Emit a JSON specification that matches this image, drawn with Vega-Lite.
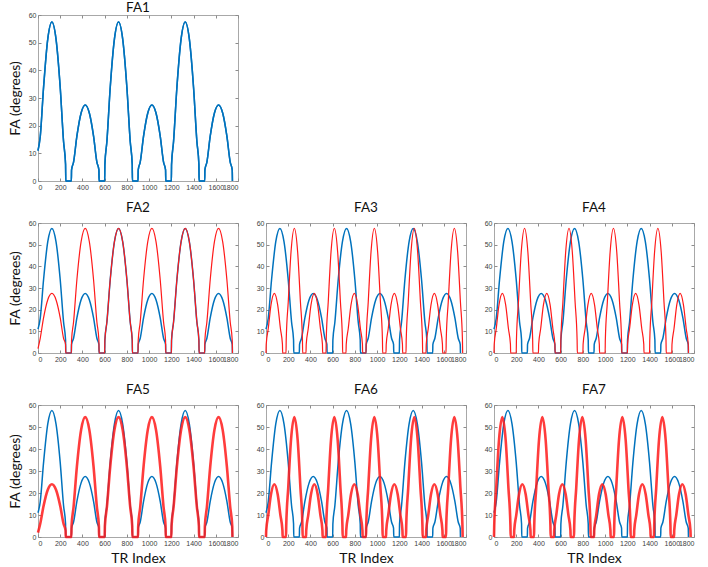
{
"$schema":"https://vega.github.io/schema/vega-lite/v6.json",
"background":"white",
"padding":{"left":7,"top":0,"right":0,"bottom":0},
"datasets":{
"b":[{"x":0,"y":11},{"x":20,"y":16},{"x":50,"y":33.8},{"x":88,"y":51.4},{"x":125,"y":57.5},{"x":162,"y":51.4},{"x":200,"y":33.8},{"x":230,"y":14.3},{"x":248,"y":6},{"x":250,"y":0},
{"x":300,"y":0},{"x":302,"y":4},{"x":320,"y":6.8},{"x":350,"y":16.2},{"x":388,"y":24.6},{"x":425,"y":27.5},{"x":462,"y":24.6},{"x":500,"y":16.2},{"x":530,"y":6.8},{"x":548,"y":4},{"x":550,"y":0},
{"x":600,"y":0},{"x":602,"y":6},{"x":620,"y":14.3},{"x":650,"y":33.8},{"x":688,"y":51.4},{"x":725,"y":57.5},{"x":762,"y":51.4},{"x":800,"y":33.8},{"x":830,"y":14.3},{"x":848,"y":6},{"x":850,"y":0},
{"x":900,"y":0},{"x":902,"y":4},{"x":920,"y":6.8},{"x":950,"y":16.2},{"x":988,"y":24.6},{"x":1025,"y":27.5},{"x":1062,"y":24.6},{"x":1100,"y":16.2},{"x":1130,"y":6.8},{"x":1148,"y":4},{"x":1150,"y":0},
{"x":1200,"y":0},{"x":1202,"y":6},{"x":1220,"y":14.3},{"x":1250,"y":33.8},{"x":1288,"y":51.4},{"x":1325,"y":57.5},{"x":1362,"y":51.4},{"x":1400,"y":33.8},{"x":1430,"y":14.3},{"x":1448,"y":6},{"x":1450,"y":0},
{"x":1500,"y":0},{"x":1502,"y":4},{"x":1520,"y":6.8},{"x":1550,"y":16.2},{"x":1588,"y":24.6},{"x":1625,"y":27.5},{"x":1662,"y":24.6},{"x":1700,"y":16.2},{"x":1730,"y":6.8},{"x":1748,"y":4},{"x":1750,"y":0}],
"r2":[{"x":0,"y":2},{"x":20,"y":6.8},{"x":50,"y":16.2},{"x":88,"y":24.6},{"x":125,"y":27.5},{"x":162,"y":24.6},{"x":200,"y":16.2},{"x":230,"y":6.8},{"x":248,"y":4},{"x":250,"y":0},
{"x":300,"y":0},{"x":302,"y":6},{"x":320,"y":14.3},{"x":350,"y":33.8},{"x":388,"y":51.4},{"x":425,"y":57.5},{"x":462,"y":51.4},{"x":500,"y":33.8},{"x":530,"y":14.3},{"x":548,"y":6},{"x":550,"y":0},
{"x":600,"y":0},{"x":602,"y":6},{"x":620,"y":14.3},{"x":650,"y":33.8},{"x":688,"y":51.4},{"x":725,"y":57.5},{"x":762,"y":51.4},{"x":800,"y":33.8},{"x":830,"y":14.3},{"x":848,"y":6},{"x":850,"y":0},
{"x":900,"y":0},{"x":902,"y":6},{"x":920,"y":14.3},{"x":950,"y":33.8},{"x":988,"y":51.4},{"x":1025,"y":57.5},{"x":1062,"y":51.4},{"x":1100,"y":33.8},{"x":1130,"y":14.3},{"x":1148,"y":6},{"x":1150,"y":0},
{"x":1200,"y":0},{"x":1202,"y":6},{"x":1220,"y":14.3},{"x":1250,"y":33.8},{"x":1288,"y":51.4},{"x":1325,"y":57.5},{"x":1362,"y":51.4},{"x":1400,"y":33.8},{"x":1430,"y":14.3},{"x":1448,"y":6},{"x":1450,"y":0},
{"x":1500,"y":0},{"x":1502,"y":6},{"x":1520,"y":14.3},{"x":1550,"y":33.8},{"x":1588,"y":51.4},{"x":1625,"y":57.5},{"x":1662,"y":51.4},{"x":1700,"y":33.8},{"x":1730,"y":14.3},{"x":1748,"y":6},{"x":1750,"y":0}],
"r5":[{"x":0,"y":2},{"x":20,"y":6},{"x":50,"y":14.1},{"x":88,"y":21.5},{"x":125,"y":24},{"x":162,"y":21.5},{"x":200,"y":14.1},{"x":230,"y":6},{"x":248,"y":3},{"x":250,"y":0},
{"x":300,"y":0},{"x":302,"y":5},{"x":320,"y":13.6},{"x":350,"y":32},{"x":388,"y":48.7},{"x":425,"y":54.5},{"x":462,"y":48.7},{"x":500,"y":32},{"x":530,"y":13.6},{"x":548,"y":5},{"x":550,"y":0},
{"x":600,"y":0},{"x":602,"y":5},{"x":620,"y":13.6},{"x":650,"y":32},{"x":688,"y":48.7},{"x":725,"y":54.5},{"x":762,"y":48.7},{"x":800,"y":32},{"x":830,"y":13.6},{"x":848,"y":5},{"x":850,"y":0},
{"x":900,"y":0},{"x":902,"y":5},{"x":920,"y":13.6},{"x":950,"y":32},{"x":988,"y":48.7},{"x":1025,"y":54.5},{"x":1062,"y":48.7},{"x":1100,"y":32},{"x":1130,"y":13.6},{"x":1148,"y":5},{"x":1150,"y":0},
{"x":1200,"y":0},{"x":1202,"y":5},{"x":1220,"y":13.6},{"x":1250,"y":32},{"x":1288,"y":48.7},{"x":1325,"y":54.5},{"x":1362,"y":48.7},{"x":1400,"y":32},{"x":1430,"y":13.6},{"x":1448,"y":5},{"x":1450,"y":0},
{"x":1500,"y":0},{"x":1502,"y":5},{"x":1520,"y":13.6},{"x":1550,"y":32},{"x":1588,"y":48.7},{"x":1625,"y":54.5},{"x":1662,"y":48.7},{"x":1700,"y":32},{"x":1730,"y":13.6},{"x":1748,"y":5},{"x":1750,"y":0}],
"r3":[{"x":0,"y":0},{"x":2,"y":4},{"x":20,"y":11.2},{"x":45,"y":22.2},{"x":75,"y":27.5},{"x":105,"y":22.2},{"x":130,"y":11.2},{"x":148,"y":4},{"x":150,"y":0},
{"x":180,"y":0},{"x":182,"y":6},{"x":200,"y":23.4},{"x":225,"y":46.5},{"x":255,"y":57.5},{"x":285,"y":46.5},{"x":310,"y":23.4},{"x":328,"y":6},{"x":330,"y":0},
{"x":360,"y":0},{"x":362,"y":4},{"x":380,"y":11.2},{"x":405,"y":22.2},{"x":435,"y":27.5},{"x":465,"y":22.2},{"x":490,"y":11.2},{"x":508,"y":4},{"x":510,"y":0},
{"x":540,"y":0},{"x":542,"y":6},{"x":560,"y":23.4},{"x":585,"y":46.5},{"x":615,"y":57.5},{"x":645,"y":46.5},{"x":670,"y":23.4},{"x":688,"y":6},{"x":690,"y":0},
{"x":720,"y":0},{"x":722,"y":4},{"x":740,"y":11.2},{"x":765,"y":22.2},{"x":795,"y":27.5},{"x":825,"y":22.2},{"x":850,"y":11.2},{"x":868,"y":4},{"x":870,"y":0},
{"x":900,"y":0},{"x":902,"y":6},{"x":920,"y":23.4},{"x":945,"y":46.5},{"x":975,"y":57.5},{"x":1005,"y":46.5},{"x":1030,"y":23.4},{"x":1048,"y":6},{"x":1050,"y":0},
{"x":1080,"y":0},{"x":1082,"y":4},{"x":1100,"y":11.2},{"x":1125,"y":22.2},{"x":1155,"y":27.5},{"x":1185,"y":22.2},{"x":1210,"y":11.2},{"x":1228,"y":4},{"x":1230,"y":0},
{"x":1260,"y":0},{"x":1262,"y":6},{"x":1280,"y":23.4},{"x":1305,"y":46.5},{"x":1335,"y":57.5},{"x":1365,"y":46.5},{"x":1390,"y":23.4},{"x":1408,"y":6},{"x":1410,"y":0},
{"x":1440,"y":0},{"x":1442,"y":4},{"x":1460,"y":11.2},{"x":1485,"y":22.2},{"x":1515,"y":27.5},{"x":1545,"y":22.2},{"x":1570,"y":11.2},{"x":1588,"y":4},{"x":1590,"y":0},
{"x":1620,"y":0},{"x":1622,"y":6},{"x":1640,"y":23.4},{"x":1665,"y":46.5},{"x":1695,"y":57.5},{"x":1725,"y":46.5},{"x":1750,"y":23.4},{"x":1768,"y":6},{"x":1770,"y":0}],
"r4":[{"x":0,"y":0},{"x":2,"y":4},{"x":20,"y":11.2},{"x":45,"y":22.2},{"x":75,"y":27.5},{"x":105,"y":22.2},{"x":130,"y":11.2},{"x":148,"y":4},{"x":150,"y":0},
{"x":200,"y":0},{"x":202,"y":6},{"x":220,"y":23.4},{"x":245,"y":46.5},{"x":275,"y":57.5},{"x":305,"y":46.5},{"x":330,"y":23.4},{"x":348,"y":6},{"x":350,"y":0},
{"x":400,"y":0},{"x":402,"y":4},{"x":420,"y":11.2},{"x":445,"y":22.2},{"x":475,"y":27.5},{"x":505,"y":22.2},{"x":530,"y":11.2},{"x":548,"y":4},{"x":550,"y":0},
{"x":600,"y":0},{"x":602,"y":6},{"x":620,"y":23.4},{"x":645,"y":46.5},{"x":675,"y":57.5},{"x":705,"y":46.5},{"x":730,"y":23.4},{"x":748,"y":6},{"x":750,"y":0},
{"x":800,"y":0},{"x":802,"y":4},{"x":820,"y":11.2},{"x":845,"y":22.2},{"x":875,"y":27.5},{"x":905,"y":22.2},{"x":930,"y":11.2},{"x":948,"y":4},{"x":950,"y":0},
{"x":1000,"y":0},{"x":1002,"y":6},{"x":1020,"y":23.4},{"x":1045,"y":46.5},{"x":1075,"y":57.5},{"x":1105,"y":46.5},{"x":1130,"y":23.4},{"x":1148,"y":6},{"x":1150,"y":0},
{"x":1200,"y":0},{"x":1202,"y":4},{"x":1220,"y":11.2},{"x":1245,"y":22.2},{"x":1275,"y":27.5},{"x":1305,"y":22.2},{"x":1330,"y":11.2},{"x":1348,"y":4},{"x":1350,"y":0},
{"x":1400,"y":0},{"x":1402,"y":6},{"x":1420,"y":23.4},{"x":1445,"y":46.5},{"x":1475,"y":57.5},{"x":1505,"y":46.5},{"x":1530,"y":23.4},{"x":1548,"y":6},{"x":1550,"y":0},
{"x":1600,"y":0},{"x":1602,"y":4},{"x":1620,"y":11.2},{"x":1645,"y":22.2},{"x":1675,"y":27.5},{"x":1705,"y":22.2},{"x":1730,"y":11.2},{"x":1748,"y":4},{"x":1750,"y":0}],
"r6":[{"x":0,"y":0},{"x":2,"y":3},{"x":20,"y":9.8},{"x":45,"y":19.4},{"x":75,"y":24},{"x":105,"y":19.4},{"x":130,"y":9.8},{"x":148,"y":3},{"x":150,"y":0},
{"x":180,"y":0},{"x":182,"y":5},{"x":200,"y":22.2},{"x":225,"y":44.1},{"x":255,"y":54.5},{"x":285,"y":44.1},{"x":310,"y":22.2},{"x":328,"y":5},{"x":330,"y":0},
{"x":360,"y":0},{"x":362,"y":3},{"x":380,"y":9.8},{"x":405,"y":19.4},{"x":435,"y":24},{"x":465,"y":19.4},{"x":490,"y":9.8},{"x":508,"y":3},{"x":510,"y":0},
{"x":540,"y":0},{"x":542,"y":5},{"x":560,"y":22.2},{"x":585,"y":44.1},{"x":615,"y":54.5},{"x":645,"y":44.1},{"x":670,"y":22.2},{"x":688,"y":5},{"x":690,"y":0},
{"x":720,"y":0},{"x":722,"y":3},{"x":740,"y":9.8},{"x":765,"y":19.4},{"x":795,"y":24},{"x":825,"y":19.4},{"x":850,"y":9.8},{"x":868,"y":3},{"x":870,"y":0},
{"x":900,"y":0},{"x":902,"y":5},{"x":920,"y":22.2},{"x":945,"y":44.1},{"x":975,"y":54.5},{"x":1005,"y":44.1},{"x":1030,"y":22.2},{"x":1048,"y":5},{"x":1050,"y":0},
{"x":1080,"y":0},{"x":1082,"y":3},{"x":1100,"y":9.8},{"x":1125,"y":19.4},{"x":1155,"y":24},{"x":1185,"y":19.4},{"x":1210,"y":9.8},{"x":1228,"y":3},{"x":1230,"y":0},
{"x":1260,"y":0},{"x":1262,"y":5},{"x":1280,"y":22.2},{"x":1305,"y":44.1},{"x":1335,"y":54.5},{"x":1365,"y":44.1},{"x":1390,"y":22.2},{"x":1408,"y":5},{"x":1410,"y":0},
{"x":1440,"y":0},{"x":1442,"y":3},{"x":1460,"y":9.8},{"x":1485,"y":19.4},{"x":1515,"y":24},{"x":1545,"y":19.4},{"x":1570,"y":9.8},{"x":1588,"y":3},{"x":1590,"y":0},
{"x":1620,"y":0},{"x":1622,"y":5},{"x":1640,"y":22.2},{"x":1665,"y":44.1},{"x":1695,"y":54.5},{"x":1725,"y":44.1},{"x":1750,"y":22.2},{"x":1768,"y":5},{"x":1770,"y":0}],
"r7":[{"x":0,"y":0},{"x":2,"y":5},{"x":20,"y":22.2},{"x":45,"y":44.1},{"x":75,"y":54.5},{"x":105,"y":44.1},{"x":130,"y":22.2},{"x":148,"y":5},{"x":150,"y":0},
{"x":180,"y":0},{"x":182,"y":3},{"x":200,"y":9.8},{"x":225,"y":19.4},{"x":255,"y":24},{"x":285,"y":19.4},{"x":310,"y":9.8},{"x":328,"y":3},{"x":330,"y":0},
{"x":360,"y":0},{"x":362,"y":5},{"x":380,"y":22.2},{"x":405,"y":44.1},{"x":435,"y":54.5},{"x":465,"y":44.1},{"x":490,"y":22.2},{"x":508,"y":5},{"x":510,"y":0},
{"x":540,"y":0},{"x":542,"y":3},{"x":560,"y":9.8},{"x":585,"y":19.4},{"x":615,"y":24},{"x":645,"y":19.4},{"x":670,"y":9.8},{"x":688,"y":3},{"x":690,"y":0},
{"x":720,"y":0},{"x":722,"y":5},{"x":740,"y":22.2},{"x":765,"y":44.1},{"x":795,"y":54.5},{"x":825,"y":44.1},{"x":850,"y":22.2},{"x":868,"y":5},{"x":870,"y":0},
{"x":900,"y":0},{"x":902,"y":3},{"x":920,"y":9.8},{"x":945,"y":19.4},{"x":975,"y":24},{"x":1005,"y":19.4},{"x":1030,"y":9.8},{"x":1048,"y":3},{"x":1050,"y":0},
{"x":1080,"y":0},{"x":1082,"y":5},{"x":1100,"y":22.2},{"x":1125,"y":44.1},{"x":1155,"y":54.5},{"x":1185,"y":44.1},{"x":1210,"y":22.2},{"x":1228,"y":5},{"x":1230,"y":0},
{"x":1260,"y":0},{"x":1262,"y":3},{"x":1280,"y":9.8},{"x":1305,"y":19.4},{"x":1335,"y":24},{"x":1365,"y":19.4},{"x":1390,"y":9.8},{"x":1408,"y":3},{"x":1410,"y":0},
{"x":1440,"y":0},{"x":1442,"y":5},{"x":1460,"y":22.2},{"x":1485,"y":44.1},{"x":1515,"y":54.5},{"x":1545,"y":44.1},{"x":1570,"y":22.2},{"x":1588,"y":5},{"x":1590,"y":0},
{"x":1620,"y":0},{"x":1622,"y":3},{"x":1640,"y":9.8},{"x":1665,"y":19.4},{"x":1695,"y":24},{"x":1725,"y":19.4},{"x":1750,"y":9.8},{"x":1768,"y":3},{"x":1770,"y":0}]
},
"config":{
"view":{"stroke":"#a8a8a8","strokeWidth":1},
"axis":{"domain":false,"grid":false,"tickSize":-3,"tickColor":"#8c8c8c","labelPadding":5,"labelFont":"Liberation Sans","labelFontSize":7,"labelColor":"#404040","titleFont":"Lato","titleFontSize":14,"titleFontWeight":"normal","titleColor":"#111111"},
"axisY":{"titlePadding":6},
"axisX":{"titlePadding":5,"labelOverlap":false},
"title":{"font":"Lato","fontSize":13.5,"fontWeight":"normal","color":"#111111","offset":5,"frame":"group"}
},
"spacing":9,
"vconcat":[
{"title":{"text":"FA1","offset":-3},"width":200,"height":166,
"encoding":{"x":{"field":"x","type":"quantitative","scale":{"domain":[0,1800],"nice":false},"axis":{"values":[0,200,400,600,800,1000,1200,1400,1600,1800],"format":"d","title":null}},
"y":{"field":"y","type":"quantitative","scale":{"domain":[0,60],"nice":false},"axis":{"values":[0,10,20,30,40,50,60],"title":"FA (degrees)"}}},
"layer":[{"data":{"name":"b"},"mark":{"type":"line","color":"#0072bd","strokeWidth":1.5,"interpolate":"monotone"}},
{"data":{"name":"b"},"mark":{"type":"line","color":"#0072bd","strokeWidth":1.5,"interpolate":"monotone"},
"encoding":{"x":{"field":"x","type":"quantitative","scale":{"domain":[0,1800],"nice":false},"axis":{"orient":"top","labels":false,"title":null,"values":[0,200,400,600,800,1000,1200,1400,1600,1800]}},
"y":{"field":"y","type":"quantitative","scale":{"domain":[0,60],"nice":false},"axis":{"orient":"right","labels":false,"title":null,"values":[0,10,20,30,40,50,60]}}}}],
"resolve":{"axis":{"x":"independent","y":"independent"}}},
{"spacing":19,"vconcat":[
{"hconcat":[
{"title":"FA2","width":200,"height":130,
"encoding":{"x":{"field":"x","type":"quantitative","scale":{"domain":[0,1800],"nice":false},"axis":{"values":[0,200,400,600,800,1000,1200,1400,1600,1800],"format":"d","title":null}},
"y":{"field":"y","type":"quantitative","scale":{"domain":[0,60],"nice":false},"axis":{"values":[0,10,20,30,40,50,60],"title":"FA (degrees)"}}},
"layer":[{"data":{"name":"b"},"mark":{"type":"line","color":"#0072bd","strokeWidth":1.5,"interpolate":"monotone"}},
{"data":{"name":"r2"},"mark":{"type":"line","color":"#ff1a1a","strokeWidth":1.2,"interpolate":"monotone"},
"encoding":{"x":{"field":"x","type":"quantitative","scale":{"domain":[0,1800],"nice":false},"axis":{"orient":"top","labels":false,"title":null,"values":[0,200,400,600,800,1000,1200,1400,1600,1800]}},
"y":{"field":"y","type":"quantitative","scale":{"domain":[0,60],"nice":false},"axis":{"orient":"right","labels":false,"title":null,"values":[0,10,20,30,40,50,60]}}}}],
"resolve":{"axis":{"x":"independent","y":"independent"}}},
{"title":"FA3","width":200,"height":130,
"encoding":{"x":{"field":"x","type":"quantitative","scale":{"domain":[0,1800],"nice":false},"axis":{"values":[0,200,400,600,800,1000,1200,1400,1600,1800],"format":"d","title":null}},
"y":{"field":"y","type":"quantitative","scale":{"domain":[0,60],"nice":false},"axis":{"values":[0,10,20,30,40,50,60],"title":null}}},
"layer":[{"data":{"name":"b"},"mark":{"type":"line","color":"#0072bd","strokeWidth":1.5,"interpolate":"monotone"}},
{"data":{"name":"r3"},"mark":{"type":"line","color":"#ff1a1a","strokeWidth":1.2,"interpolate":"monotone"},
"encoding":{"x":{"field":"x","type":"quantitative","scale":{"domain":[0,1800],"nice":false},"axis":{"orient":"top","labels":false,"title":null,"values":[0,200,400,600,800,1000,1200,1400,1600,1800]}},
"y":{"field":"y","type":"quantitative","scale":{"domain":[0,60],"nice":false},"axis":{"orient":"right","labels":false,"title":null,"values":[0,10,20,30,40,50,60]}}}}],
"resolve":{"axis":{"x":"independent","y":"independent"}}},
{"title":"FA4","width":200,"height":130,
"encoding":{"x":{"field":"x","type":"quantitative","scale":{"domain":[0,1800],"nice":false},"axis":{"values":[0,200,400,600,800,1000,1200,1400,1600,1800],"format":"d","title":null}},
"y":{"field":"y","type":"quantitative","scale":{"domain":[0,60],"nice":false},"axis":{"values":[0,10,20,30,40,50,60],"title":null}}},
"layer":[{"data":{"name":"b"},"mark":{"type":"line","color":"#0072bd","strokeWidth":1.5,"interpolate":"monotone"}},
{"data":{"name":"r4"},"mark":{"type":"line","color":"#ff1a1a","strokeWidth":1.2,"interpolate":"monotone"},
"encoding":{"x":{"field":"x","type":"quantitative","scale":{"domain":[0,1800],"nice":false},"axis":{"orient":"top","labels":false,"title":null,"values":[0,200,400,600,800,1000,1200,1400,1600,1800]}},
"y":{"field":"y","type":"quantitative","scale":{"domain":[0,60],"nice":false},"axis":{"orient":"right","labels":false,"title":null,"values":[0,10,20,30,40,50,60]}}}}],
"resolve":{"axis":{"x":"independent","y":"independent"}}}
],"spacing":28,"bounds":"flush"},
{"hconcat":[
{"title":"FA5","width":200,"height":132,
"encoding":{"x":{"field":"x","type":"quantitative","scale":{"domain":[0,1800],"nice":false},"axis":{"values":[0,200,400,600,800,1000,1200,1400,1600,1800],"format":"d","title":"TR Index"}},
"y":{"field":"y","type":"quantitative","scale":{"domain":[0,60],"nice":false},"axis":{"values":[0,10,20,30,40,50,60],"title":"FA (degrees)"}}},
"layer":[{"data":{"name":"b"},"mark":{"type":"line","color":"#0072bd","strokeWidth":1.5,"interpolate":"monotone"}},
{"data":{"name":"r5"},"mark":{"type":"line","color":"#ff1a1a","strokeWidth":2.6,"opacity":0.85,"interpolate":"monotone"},
"encoding":{"x":{"field":"x","type":"quantitative","scale":{"domain":[0,1800],"nice":false},"axis":{"orient":"top","labels":false,"title":null,"values":[0,200,400,600,800,1000,1200,1400,1600,1800]}},
"y":{"field":"y","type":"quantitative","scale":{"domain":[0,60],"nice":false},"axis":{"orient":"right","labels":false,"title":null,"values":[0,10,20,30,40,50,60]}}}}],
"resolve":{"axis":{"x":"independent","y":"independent"}}},
{"title":"FA6","width":200,"height":132,
"encoding":{"x":{"field":"x","type":"quantitative","scale":{"domain":[0,1800],"nice":false},"axis":{"values":[0,200,400,600,800,1000,1200,1400,1600,1800],"format":"d","title":"TR Index"}},
"y":{"field":"y","type":"quantitative","scale":{"domain":[0,60],"nice":false},"axis":{"values":[0,10,20,30,40,50,60],"title":null}}},
"layer":[{"data":{"name":"b"},"mark":{"type":"line","color":"#0072bd","strokeWidth":1.5,"interpolate":"monotone"}},
{"data":{"name":"r6"},"mark":{"type":"line","color":"#ff1a1a","strokeWidth":2.6,"opacity":0.85,"interpolate":"monotone"},
"encoding":{"x":{"field":"x","type":"quantitative","scale":{"domain":[0,1800],"nice":false},"axis":{"orient":"top","labels":false,"title":null,"values":[0,200,400,600,800,1000,1200,1400,1600,1800]}},
"y":{"field":"y","type":"quantitative","scale":{"domain":[0,60],"nice":false},"axis":{"orient":"right","labels":false,"title":null,"values":[0,10,20,30,40,50,60]}}}}],
"resolve":{"axis":{"x":"independent","y":"independent"}}},
{"title":"FA7","width":200,"height":132,
"encoding":{"x":{"field":"x","type":"quantitative","scale":{"domain":[0,1800],"nice":false},"axis":{"values":[0,200,400,600,800,1000,1200,1400,1600,1800],"format":"d","title":"TR Index"}},
"y":{"field":"y","type":"quantitative","scale":{"domain":[0,60],"nice":false},"axis":{"values":[0,10,20,30,40,50,60],"title":null}}},
"layer":[{"data":{"name":"b"},"mark":{"type":"line","color":"#0072bd","strokeWidth":1.5,"interpolate":"monotone"}},
{"data":{"name":"r7"},"mark":{"type":"line","color":"#ff1a1a","strokeWidth":2.6,"opacity":0.85,"interpolate":"monotone"},
"encoding":{"x":{"field":"x","type":"quantitative","scale":{"domain":[0,1800],"nice":false},"axis":{"orient":"top","labels":false,"title":null,"values":[0,200,400,600,800,1000,1200,1400,1600,1800]}},
"y":{"field":"y","type":"quantitative","scale":{"domain":[0,60],"nice":false},"axis":{"orient":"right","labels":false,"title":null,"values":[0,10,20,30,40,50,60]}}}}],
"resolve":{"axis":{"x":"independent","y":"independent"}}}
],"spacing":28,"bounds":"flush"}
]}
]
}
